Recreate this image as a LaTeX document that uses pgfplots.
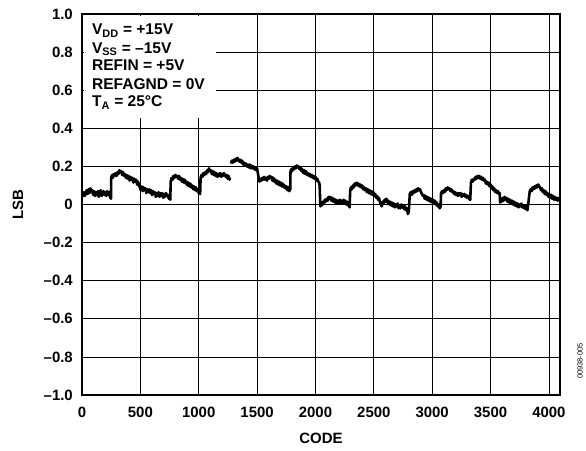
\documentclass[border=0pt]{standalone}
\usepackage{fontspec}
\setmainfont{Liberation Sans}
\usepackage{pgfplots}
\pgfplotsset{compat=1.18}
\begin{document}
\begin{tikzpicture}
\begin{axis}[
  scale only axis, width=478bp, height=381bp,
  xmin=0, xmax=4095, ymin=-1, ymax=1,
  clip=false,
  xtick={0,500,...,4000},
  xticklabels={0,500,1000,1500,2000,2500,3000,3500,4000},
  ytick={-1,-0.8,-0.6,-0.4,-0.2,0,0.2,0.4,0.6,0.8,1},
  yticklabels={–1.0,–0.8,–0.6,–0.4,–0.2,0,0.2,0.4,0.6,0.8,1.0},
  major tick length=0pt,
  grid=major,
  grid style={black, line width=0.8bp},
  axis line style={black, line width=1.4bp},
  tick label style={font=\fontsize{15}{17}\selectfont\bfseries, inner sep=0pt},
  yticklabel shift=9bp,
  xticklabel shift=12bp,
  xlabel={CODE}, ylabel={LSB},
  label style={font=\fontsize{15}{17}\selectfont\bfseries, inner sep=0pt},
  xlabel style={at={(axis description cs:0.5,-0.1129)}, anchor=center},
  ylabel style={at={(axis description cs:-0.1339,0.5)}, anchor=center},
  unbounded coords=jump,
]
\fill[white] (axis cs:15,0.454) rectangle (axis cs:1145,0.99);
\addplot[black, line width=2.6bp, line join=round] coordinates {
(4,0.04) (16,0.065) (24,0.045) (32,0.06) (40,0.075) (48,0.055) (56,0.08) (64,0.06) (72,0.085) (80,0.065) (88,0.075) (96,0.05) (104,0.07)
(112,0.045) (120,0.065) (128,0.05) (136,0.07) (144,0.04) (152,0.065) (160,0.075) (168,0.045) (176,0.06) (184,0.07) (192,0.05) (200,0.065) (208,0.045)
(216,0.07) (224,0.05) (232,0.065) (240,0.04) (248,0.03) (250,0.14) (258,0.155) (264,0.14) (272,0.16) (280,0.15) (288,0.165) (296,0.15)
(304,0.17) (312,0.16) (320,0.18) (328,0.17) (336,0.175) (344,0.155) (352,0.17) (360,0.15) (368,0.16) (376,0.14) (384,0.155) (392,0.135)
(400,0.15) (408,0.125) (416,0.145) (424,0.13) (432,0.14) (440,0.115) (448,0.135) (456,0.12) (464,0.13) (472,0.105) (480,0.12) (488,0.1)
(496,0.09) (504,0.075) (512,0.095) (520,0.07) (528,0.09) (536,0.075) (544,0.085) (552,0.06) (560,0.08) (568,0.065) (576,0.08) (584,0.06)
(592,0.075) (600,0.05) (608,0.07) (616,0.055) (624,0.065) (632,0.04) (640,0.06) (648,0.045) (656,0.065) (664,0.04) (672,0.06) (680,0.045)
(688,0.06) (696,0.035) (704,0.055) (712,0.04) (720,0.06) (728,0.045) (736,0.05) (744,0.03) (752,0.04) (756,0.025) (760,0.12)
(768,0.14) (776,0.13) (784,0.15) (792,0.14) (800,0.155) (808,0.145) (816,0.15) (824,0.135) (832,0.15) (840,0.13) (848,0.14) (856,0.12)
(864,0.135) (872,0.115) (880,0.13) (888,0.11) (896,0.12) (904,0.1) (912,0.115) (920,0.095) (928,0.11) (936,0.09) (944,0.1) (952,0.08)
(960,0.095) (968,0.075) (976,0.09) (984,0.07) (992,0.08) (1000,0.06) (1008,0.07) (1012,0.055) (1016,0.14) (1024,0.155) (1032,0.145)
(1040,0.165) (1048,0.155) (1056,0.17) (1064,0.16) (1072,0.18) (1080,0.17) (1088,0.19) (1096,0.175) (1104,0.18) (1112,0.16) (1120,0.175)
(1128,0.155) (1136,0.17) (1144,0.15) (1152,0.165) (1160,0.145) (1168,0.16) (1176,0.15) (1184,0.165) (1192,0.145) (1200,0.16) (1208,0.15)
(1216,0.165) (1224,0.155) (1232,0.145) (1240,0.155) (1248,0.135) (1256,0.15) (1264,0.13) (1268,0.14) (1272,nan)
(1276,0.215) (1284,0.23) (1292,0.22) (1300,0.235) (1308,0.225) (1316,0.24) (1324,0.23) (1332,0.245) (1340,0.235) (1348,0.225) (1356,0.235)
(1364,0.22) (1372,0.23) (1380,0.21) (1388,0.22) (1396,0.205) (1404,0.215) (1412,0.2) (1420,0.21) (1428,0.195) (1436,0.21) (1444,0.19)
(1452,0.205) (1460,0.19) (1468,0.2) (1476,0.185) (1484,0.195) (1492,0.18) (1500,0.19) (1508,0.16) (1516,0.13) (1520,0.12) (1528,0.135)
(1536,0.125) (1544,0.14) (1552,0.13) (1560,0.145) (1568,0.13) (1576,0.14) (1584,0.125) (1592,0.145) (1600,0.135) (1608,0.15) (1616,0.14)
(1624,0.145) (1632,0.125) (1640,0.14) (1648,0.12) (1656,0.13) (1664,0.11) (1672,0.125) (1680,0.105) (1688,0.12) (1696,0.1) (1704,0.115)
(1712,0.095) (1720,0.11) (1728,0.09) (1736,0.1) (1744,0.085) (1752,0.095) (1760,0.075) (1768,0.09) (1776,0.07) (1784,0.08) (1786,0.17)
(1792,0.185) (1800,0.175) (1808,0.195) (1816,0.185) (1824,0.2) (1832,0.19) (1840,0.205) (1848,0.195) (1856,0.2) (1864,0.185) (1872,0.195)
(1880,0.175) (1888,0.185) (1896,0.165) (1904,0.18) (1912,0.16) (1920,0.175) (1928,0.155) (1936,0.165) (1944,0.15) (1952,0.16) (1960,0.145)
(1968,0.155) (1976,0.14) (1984,0.15) (1992,0.135) (2000,0.145) (2008,0.125) (2016,0.135) (2024,0.12) (2032,0.115) (2036,0.1) (2042,-0.01)
(2048,0.005) (2056,-0.005) (2064,0.015) (2072,0.005) (2080,0.025) (2088,0.015) (2096,0.03) (2104,0.02) (2112,0.04) (2120,0.03) (2128,0.04)
(2136,0.02) (2144,0.035) (2152,0.015) (2160,0.03) (2168,0.01) (2176,0.025) (2184,0.005) (2192,0.02) (2200,0.01) (2208,0.025) (2216,0.005)
(2224,0.02) (2232,0.01) (2240,0.025) (2248,0.005) (2256,0.02) (2264,0.0) (2272,0.015) (2280,-0.005) (2288,0.005) (2292,-0.015) (2298,0.075)
(2304,0.09) (2312,0.08) (2320,0.1) (2328,0.09) (2336,0.11) (2344,0.1) (2352,0.115) (2360,0.1) (2368,0.11) (2376,0.095) (2384,0.105)
(2392,0.09) (2400,0.1) (2408,0.08) (2416,0.09) (2424,0.075) (2432,0.085) (2440,0.065) (2448,0.08) (2456,0.06) (2464,0.075) (2472,0.055)
(2480,0.07) (2488,0.05) (2496,0.065) (2504,0.045) (2512,0.055) (2520,0.035) (2528,0.045) (2536,0.025) (2544,0.035) (2552,0.015) (2560,0.0)
(2568,-0.01) (2576,0.015) (2584,0.005) (2592,0.025) (2600,0.015) (2608,0.03) (2616,0.01) (2624,0.02) (2632,0.0) (2640,0.015) (2648,-0.005)
(2656,0.01) (2664,-0.01) (2672,0.005) (2680,-0.015) (2688,0.0) (2696,-0.01) (2704,0.005) (2712,-0.02) (2720,-0.005) (2728,-0.02) (2736,0.0)
(2744,-0.015) (2752,-0.005) (2760,-0.025) (2768,-0.01) (2776,-0.03) (2784,-0.02) (2792,-0.05) (2800,-0.035) (2808,0.055) (2816,0.065)
(2824,0.05) (2832,0.07) (2840,0.06) (2848,0.075) (2856,0.065) (2864,0.08) (2872,0.07) (2880,0.085) (2888,0.075) (2896,0.08) (2904,0.065)
(2912,0.055) (2920,0.045) (2928,0.05) (2936,0.03) (2944,0.045) (2952,0.025) (2960,0.04) (2968,0.02) (2976,0.035) (2984,0.015) (2992,0.03)
(3000,0.01) (3008,0.025) (3016,0.005) (3024,0.02) (3032,0.0) (3040,0.01) (3048,-0.01) (3056,0.0) (3064,-0.02) (3072,-0.01) (3076,0.06)
(3084,0.07) (3092,0.06) (3100,0.075) (3108,0.065) (3116,0.085) (3124,0.075) (3132,0.09) (3140,0.08) (3148,0.085) (3156,0.07) (3164,0.08)
(3172,0.065) (3180,0.07) (3188,0.055) (3196,0.065) (3204,0.05) (3212,0.06) (3220,0.045) (3228,0.06) (3236,0.05) (3244,0.06) (3252,0.04)
(3260,0.055) (3268,0.045) (3276,0.055) (3284,0.04) (3292,0.05) (3300,0.035) (3308,0.045) (3316,0.03) (3326,0.025) (3332,0.115) (3340,0.13)
(3348,0.12) (3356,0.135) (3364,0.13) (3372,0.145) (3380,0.135) (3388,0.15) (3396,0.14) (3404,0.15) (3412,0.135) (3420,0.145) (3428,0.13)
(3436,0.14) (3444,0.125) (3452,0.13) (3460,0.11) (3468,0.12) (3476,0.105) (3484,0.115) (3492,0.095) (3500,0.105) (3508,0.085) (3516,0.095)
(3524,0.075) (3532,0.085) (3540,0.065) (3548,0.075) (3556,0.06) (3564,0.07) (3572,0.055) (3578,0.06) (3582,0.01) (3588,0.025) (3596,0.015)
(3604,0.035) (3612,0.02) (3620,0.04) (3628,0.025) (3636,0.035) (3644,0.015) (3652,0.03) (3660,0.01) (3668,0.025) (3676,0.005) (3684,0.02)
(3692,0.0) (3700,0.015) (3708,-0.005) (3716,0.01) (3724,-0.01) (3732,0.005) (3740,-0.015) (3748,0.0) (3756,-0.01) (3764,0.005) (3772,-0.015)
(3780,-0.005) (3788,-0.02) (3796,-0.005) (3804,-0.025) (3812,-0.015) (3816,-0.03) (3836,0.07) (3844,0.08) (3852,0.07) (3860,0.09) (3868,0.08)
(3876,0.095) (3884,0.085) (3892,0.1) (3900,0.09) (3908,0.105) (3916,0.095) (3924,0.09) (3932,0.075) (3940,0.085) (3948,0.065) (3956,0.075)
(3964,0.055) (3972,0.07) (3980,0.05) (3988,0.06) (3996,0.04) (4004,0.055) (4012,0.035) (4020,0.05) (4028,0.03) (4036,0.045) (4044,0.025)
(4052,0.04) (4060,0.025) (4068,0.035) (4076,0.02) (4084,0.035) (4091,0.025)
};
\begin{scope}[every node/.style={anchor=base west, inner sep=0pt, font=\fontsize{15.6}{17}\selectfont\bfseries}]
\node at (axis cs:85,0.890) {V\textsubscript{DD} = +15V};
\node at (axis cs:85,0.795) {V\textsubscript{SS} = –15V};
\node at (axis cs:85,0.701) {REFIN = +5V};
\node at (axis cs:85,0.606) {REFAGND = 0V};
\node at (axis cs:85,0.512) {T\textsubscript{A} = 25°C};
\end{scope}
\node[rotate=90, inner sep=0pt, font=\fontsize{7.5}{9}\selectfont] at (rel axis cs:1.0418,0.0892) {00938-005};
\end{axis}
\path ([shift={(-82bp,-56bp)}]current axis.south west) rectangle ([shift={(26bp,14bp)}]current axis.north east);
\end{tikzpicture}
\end{document}
